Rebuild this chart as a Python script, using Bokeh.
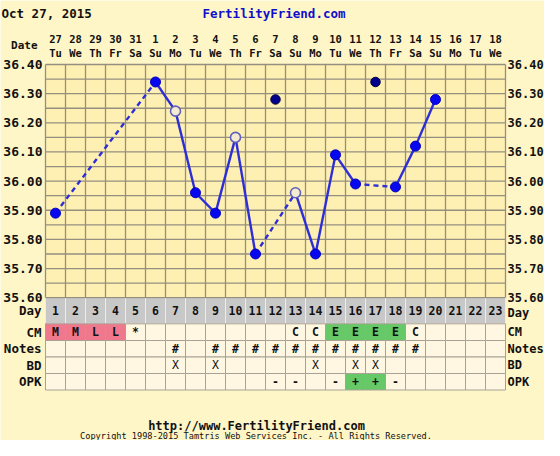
import numpy as np
from bokeh.plotting import figure
from bokeh.models import Range1d
from bokeh.core.properties import value
from bokeh.embed import file_html
from bokeh.resources import INLINE

# ---------------- data ----------------
title_date = "Oct 27, 2015"
site_name = "FertilityFriend.com"
footer_url = "http://www.FertilityFriend.com"
footer_copy = "Copyright 1998-2015 Tamtris Web Services Inc. - All Rights Reserved."

cycle_days = list(range(1, 24))
date_labels = ["27", "28", "29", "30", "31", "1", "2", "3", "4", "5", "6", "7",
               "8", "9", "10", "11", "12", "13", "14", "15", "16", "17", "18"]
weekday_labels = ["Tu", "We", "Th", "Fr", "Sa", "Su", "Mo", "Tu", "We", "Th", "Fr", "Sa",
                  "Su", "Mo", "Tu", "We", "Th", "Fr", "Sa", "Su", "Mo", "Tu", "We"]

temp_ticks = [35.60, 35.70, 35.80, 35.90, 36.00, 36.10, 36.20, 36.30, 36.40]
temp_tick_labels = ["35.60", "35.70", "35.80", "35.90", "36.00", "36.10", "36.20", "36.30", "36.40"]

temp_days = [1, 6, 7, 8, 9, 10, 11, 12, 13, 14, 15, 16, 17, 18, 19, 20]
temp_values = [35.89, 36.34, 36.24, 35.96, 35.89, 36.15, 35.75, 36.28, 35.96, 35.75,
               36.09, 35.99, 36.34, 35.98, 36.12, 36.28]
temp_kind = ["n", "n", "o", "n", "n", "o", "n", "d", "o", "n", "n", "n", "d", "n", "n", "n"]

cm_days = [1, 2, 3, 4, 5, 13, 14, 15, 16, 17, 18, 19]
cm_text = ["M", "M", "L", "L", "*", "C", "C", "E", "E", "E", "E", "C"]
notes_days = [7, 9, 10, 11, 12, 13, 14, 15, 16, 17, 18, 19]
bd_days = [7, 9, 14, 16, 17]
opk_days = [12, 13, 15, 16, 17, 18]
opk_text = ["-", "-", "-", "+", "+", "-"]

# ---------------- style ----------------
W, H = 544, 440
BG = "#FFF6C8"
GRID_FILL = "#FEF0B2"
GRID_LINE = "#958f80"
CELL = "#FFF7E2"
CELL_LINE = "#a8a294"
PINK = "#F0788C"
GREEN = "#66C866"
BLUE_LINE = "#2E2ED6"
BLUE_DOT = "#0808EE"
FONT = value("DejaVu Sans Mono")

X0 = 35.0      # px of day 0 centre
DX = 20.0      # px per day
TOP_PX = 64.0  # px of 36.40
PPD = 291.5    # px per degree

xr = Range1d(-X0 / DX, (W - X0) / DX)
yr = Range1d(36.40 - (H - TOP_PX) / PPD, 36.40 + TOP_PX / PPD)

p = figure(width=W, height=H, x_range=xr, y_range=yr, output_backend="svg",
           toolbar_location=None, x_axis_location=None, y_axis_location=None,
           min_border=0, background_fill_color=BG, border_fill_color=BG,
           outline_line_color=None)
p.xgrid.visible = False
p.ygrid.visible = False
p.extra_y_ranges = {"px": Range1d(start=H, end=0)}


def dpx(px):
    return (px - X0) / DX


lo, hi = temp_ticks[0], temp_ticks[-1]
first, last = cycle_days[0] - 0.5, cycle_days[-1] + 0.5

# chart area
p.quad(left=[first], right=[last], bottom=[lo], top=[hi], fill_color=GRID_FILL, line_color=None)
vx = [d - 0.5 for d in cycle_days] + [last]
p.segment(x0=vx, x1=vx, y0=[lo] * len(vx), y1=[hi] * len(vx), line_color=GRID_LINE, line_width=1.3)
hy = list(np.round(np.arange(lo, hi + 0.001, 0.05), 2))
p.segment(x0=[first] * len(hy), x1=[last] * len(hy), y0=hy, y1=hy, line_color=GRID_LINE, line_width=1.3)

# y tick labels
p.text(x=[dpx(42)] * len(temp_ticks), y=temp_ticks, text=temp_tick_labels, text_align="right",
       text_baseline="middle", text_font=FONT, text_font_style="bold", text_font_size="13px",
       text_color="#111111")
p.text(x=[dpx(507)] * len(temp_ticks), y=temp_ticks, text=temp_tick_labels, text_align="left",
       text_baseline="middle", text_font=FONT, text_font_style="bold", text_font_size="12px",
       text_color="#111111")

# header
p.text(x=[dpx(1)], y=[13], y_range_name="px", text=[title_date], text_align="left",
       text_baseline="middle", text_font=FONT, text_font_style="bold", text_font_size="12.5px",
       text_color="#111111")
p.text(x=[dpx(273.5)], y=[13], y_range_name="px", text=[site_name], text_align="center",
       text_baseline="middle", text_font=FONT, text_font_style="bold", text_font_size="12.5px",
       text_color="#1010CC")
p.text(x=[dpx(37)], y=[45], y_range_name="px", text=["Date"], text_align="right",
       text_baseline="middle", text_font=FONT, text_font_style="bold", text_font_size="11px",
       text_color="#111111")
p.text(x=cycle_days, y=[38] * len(cycle_days), y_range_name="px", text=date_labels,
       text_align="center", text_baseline="middle", text_font=FONT, text_font_style="bold",
       text_font_size="10.5px", text_color="#111111")
p.text(x=cycle_days, y=[52.5] * len(cycle_days), y_range_name="px", text=weekday_labels,
       text_align="center", text_baseline="middle", text_font=FONT, text_font_style="bold",
       text_font_size="10.5px", text_color="#111111")

# temperature lines
kept = [(d, t) for d, t, k in zip(temp_days, temp_values, temp_kind) if k != "d"]
solid_x, solid_y, dash_x, dash_y = [], [], [], []
for (d1, t1), (d2, t2) in zip(kept[:-1], kept[1:]):
    if d2 - d1 == 1:
        solid_x.append([d1, d2]); solid_y.append([t1, t2])
    else:
        dash_x.append([d1, d2]); dash_y.append([t1, t2])
p.multi_line(xs=dash_x, ys=dash_y, line_color=BLUE_LINE, line_width=2.4, line_dash="5 4")
p.multi_line(xs=solid_x, ys=solid_y, line_color=BLUE_LINE, line_width=2.4)

nx = [d for d, k in zip(temp_days, temp_kind) if k == "n"]
ny = [t for t, k in zip(temp_values, temp_kind) if k == "n"]
ox = [d for d, k in zip(temp_days, temp_kind) if k == "o"]
oy = [t for t, k in zip(temp_values, temp_kind) if k == "o"]
dxs = [d for d, k in zip(temp_days, temp_kind) if k == "d"]
dys = [t for t, k in zip(temp_values, temp_kind) if k == "d"]
p.scatter(nx, ny, size=10, marker="circle", fill_color=BLUE_DOT, line_color="#0000C0", line_width=1)
p.scatter(ox, oy, size=10, marker="circle", fill_color="#F4EBD0", line_color="#6060C0", line_width=1.6)
p.scatter(dxs, dys, size=9.5, marker="circle", fill_color="#00008A", line_color="#000040", line_width=1)

# table
rows = [("Day", 297.2, 323.3), ("CM", 323.3, 340), ("Notes", 340, 356.5),
        ("BD", 356.5, 373), ("OPK", 373, 389.5)]
for name, top, bot in rows:
    if name == "Day":
        fills = ["#C8C8C8"] * len(cycle_days)
        lc = "#ECECEC"
    else:
        fills = []
        for d in cycle_days:
            f = CELL
            if name == "CM" and d in cm_days:
                t = cm_text[cm_days.index(d)]
                if t in ("M", "L"):
                    f = PINK
                elif t == "E":
                    f = GREEN
            if name == "OPK" and d in opk_days and opk_text[opk_days.index(d)] == "+":
                f = GREEN
            fills.append(f)
        lc = CELL_LINE
    p.quad(left=[d - 0.5 for d in cycle_days], right=[d + 0.5 for d in cycle_days],
           top=[top] * len(cycle_days), bottom=[bot] * len(cycle_days), y_range_name="px",
           fill_color=fills, line_color=lc, line_width=1)
    cy = (top + bot) / 2
    p.text(x=[dpx(41)], y=[cy], y_range_name="px", text=[name], text_align="right",
           text_baseline="middle", text_font=FONT, text_font_style="bold", text_font_size="12.5px",
           text_color="#111111")
    p.text(x=[dpx(507)], y=[cy + (2 if name == "Day" else 0)], y_range_name="px", text=[name],
           text_align="left", text_baseline="middle", text_font=FONT, text_font_style="bold",
           text_font_size="12px", text_color="#111111")

p.segment(x0=[first], x1=[last], y0=[297.2], y1=[297.2], y_range_name="px", line_color=GRID_LINE, line_width=1.3)


def row_c(i):
    return (rows[i][1] + rows[i][2]) / 2


cell_font = dict(text_align="center", text_baseline="middle", text_font=FONT,
                 text_font_style="bold", text_font_size="11.5px", text_color="#111111")
p.text(x=cycle_days, y=[row_c(0)] * len(cycle_days), y_range_name="px",
       text=[str(d) for d in cycle_days], **cell_font)
p.text(x=cm_days, y=[row_c(1)] * len(cm_days), y_range_name="px", text=cm_text, **cell_font)
p.text(x=notes_days, y=[row_c(2)] * len(notes_days), y_range_name="px", text=["#"] * len(notes_days), **cell_font)
p.text(x=bd_days, y=[row_c(3)] * len(bd_days), y_range_name="px", text=["X"] * len(bd_days),
       text_align="center", text_baseline="middle", text_font=FONT, text_font_style="normal",
       text_font_size="11.5px", text_color="#111111")
p.text(x=opk_days, y=[row_c(4)] * len(opk_days), y_range_name="px", text=opk_text, **cell_font)

# footer
p.text(x=[dpx(256)], y=[425], y_range_name="px", text=[footer_url], text_align="center",
       text_baseline="middle", text_font=FONT, text_font_style="bold", text_font_size="12px",
       text_color="#111111")
p.text(x=[dpx(255.5)], y=[435.5], y_range_name="px", text=[footer_copy], text_align="center",
       text_baseline="middle", text_font=FONT, text_font_style="normal", text_font_size="8.6px",
       text_color="#111111")

open("out.html", "w").write(file_html(p, INLINE))
